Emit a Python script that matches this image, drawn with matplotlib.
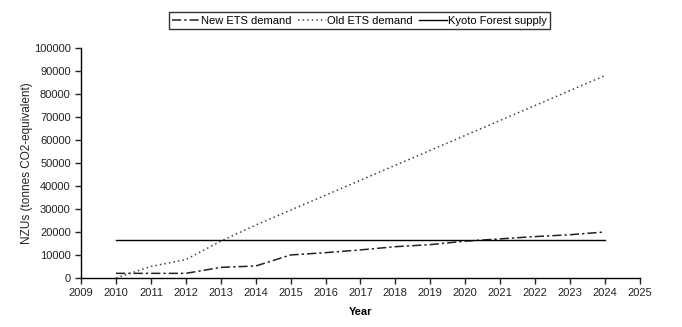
import matplotlib
matplotlib.use('Agg')
import matplotlib.pyplot as plt

plt.rcParams['font.family'] = ['Liberation Sans', 'DejaVu Sans']

# data
years = [2010, 2011, 2012, 2013, 2014, 2015, 2016, 2017, 2018, 2019, 2020, 2021, 2022, 2023, 2024]
new_ets = [2000, 2000, 2000, 4600, 5200, 10000, 11000, 12200, 13600, 14500, 16000, 17000, 18000, 18800, 20000]
old_ets = [0, 5000, 8000, 16000, 23000, 29500, 36000, 42500, 49000, 55500, 62000, 68500, 75000, 81500, 88000]
kyoto = [16500] * len(years)

fig = plt.figure(figsize=(6.82, 3.27), dpi=100)
ax = fig.add_axes([0.119, 0.150, 0.819, 0.703])

ax.plot(years, new_ets, color='#222222', lw=1.1, linestyle=(0, (6, 2, 1.5, 2)), label='New ETS demand')
ax.plot(years, old_ets, color='#444444', lw=1.1, linestyle=(0, (1, 2)), label='Old ETS demand')
ax.plot(years, kyoto, color='black', lw=1.0, label='Kyoto Forest supply')

ax.set_xlim(2009, 2025)
ax.set_ylim(0, 100000)
ax.set_xticks(range(2009, 2026))
ax.set_yticks(range(0, 100001, 10000))
ax.tick_params(labelsize=8, direction='out', length=4, width=1, colors='#222222')
for s in ['top', 'right']:
    ax.spines[s].set_visible(False)
for s in ['left', 'bottom']:
    ax.spines[s].set_linewidth(1.0)

ax.set_xlabel('Year', fontsize=8, fontweight='bold', labelpad=6)
ax.set_ylabel('NZUs (tonnes CO2-equivalent)', fontsize=8.5, color='#222222')
ax.yaxis.set_label_coords(-0.087, 0.5)

fig.legend(loc='center', bbox_to_anchor=(0.527, 0.937), ncol=3, fontsize=8,
           frameon=True, fancybox=False, edgecolor='black', handlelength=2.5,
           handletextpad=0.1, columnspacing=0.6, borderpad=0.3)

fig.savefig('out.png', dpi=100)
